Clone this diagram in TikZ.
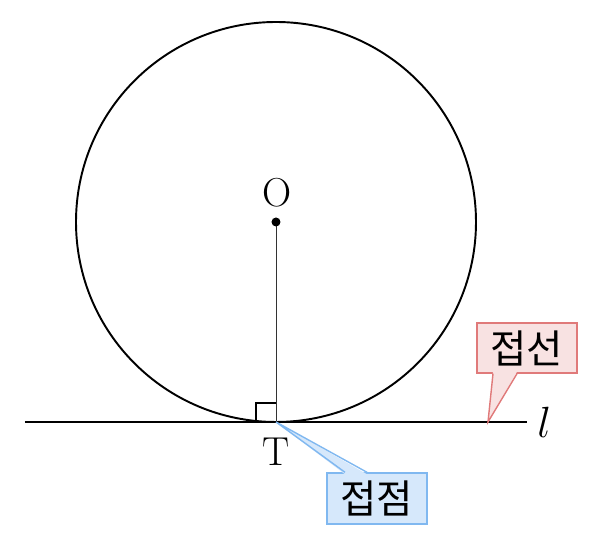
\documentclass[tikz,border=0pt]{standalone}
\usepackage{fontspec}
\newfontfamily\kor{Noto Sans CJK KR}
\usetikzlibrary{calc,positioning}
\definecolor{pinkfill}{RGB}{248,226,226}
\definecolor{pinkline}{RGB}{224,122,122}
\definecolor{bluefill}{RGB}{214,232,251}
\definecolor{blueline}{RGB}{128,184,240}
\tikzstyle{lbl} = [font=\fontsize{23}{28}\selectfont, inner sep=0pt]
\tikzstyle{tanbox} = [rectangle, draw=pinkline, fill=pinkfill, line width=0.8pt, minimum width=2cm, minimum height=1cm, font=\kor\fontsize{22.5}{26}\selectfont]
\tikzstyle{ptbox} = [rectangle, draw=blueline, fill=bluefill, line width=0.8pt, minimum width=2cm, minimum height=1.02cm, font=\kor\fontsize{22.5}{26}\selectfont]

\begin{document}
\begin{tikzpicture}[x=0.02cm,y=-0.02cm]
    \useasboundingbox (0,0) rectangle (600,546);
    \coordinate (center) at (276,222);
    \coordinate (tpt) at (276,422);
    \coordinate (lineL) at (25,422);
    \coordinate (lineR) at (527,422);
    \coordinate (tanpt) at (488,422);

    \draw[line width=1.1pt] (center) circle (200);
    \draw[line width=1.1pt] (lineL) -- (lineR);
    \draw[line width=0.5pt, black!80] (center) -- (tpt);
    \draw[line width=0.6pt] (tpt) ++(-20,0) -- ++(0,-19) -- ++(20,0);
    \fill (center) circle (4.5);

    \node[lbl] (olabel) at (277,193) {O};
    \node[lbl] (tlabel) at (276,452) {T};
    \node[lbl, right=0.2cm of lineR] (llabel) {$l$};

    % callouts
    \node[tanbox] (tanlabel) at (527,348) {접선};
    \fill[pinkfill] ($(tanlabel.south)+(-34,-2)$) -- (tanpt) -- ($(tanlabel.south)+(-10,-2)$) -- cycle;
    \draw[pinkline, line width=0.8pt] ($(tanlabel.south)+(-34,0)$) -- (tanpt) -- ($(tanlabel.south)+(-10,0)$);

    \node[ptbox] (ptlabel) at (377,498.5) {접점};
    \fill[bluefill] ($(ptlabel.north)+(-32,2)$) -- (tpt) -- ($(ptlabel.north)+(-10,2)$) -- cycle;
    \draw[blueline, line width=0.8pt] ($(ptlabel.north)+(-32,0)$) -- (tpt) -- ($(ptlabel.north)+(-10,0)$);
\end{tikzpicture}
\end{document}
